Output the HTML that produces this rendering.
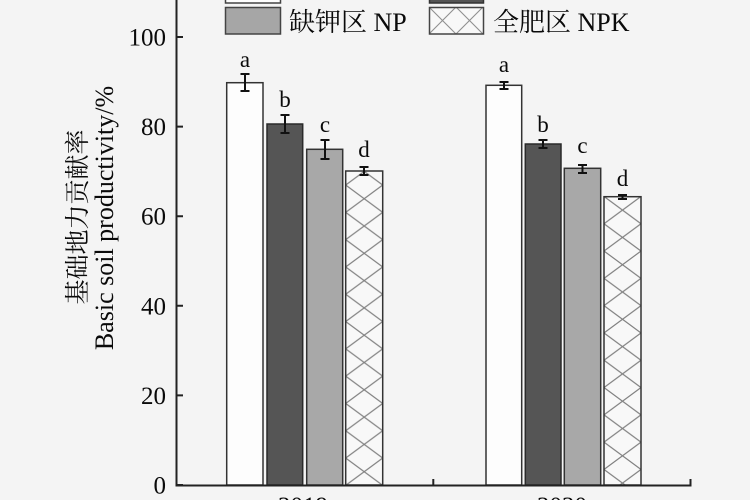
<!DOCTYPE html>
<html>
<head>
<meta charset="utf-8">
<style>
html,body{margin:0;padding:0;background:#f4f4f4;}
svg{display:block;}
text{font-family:"Liberation Serif","Noto Serif CJK SC",serif;fill:#0a0a0a;}
</style>
</head>
<body>
<svg width="750" height="500" viewBox="0 0 750 500" xmlns="http://www.w3.org/2000/svg">
<defs>
<pattern id="h1" patternUnits="userSpaceOnUse" x="345.7" y="-6.05" width="37" height="27.3">
<path d="M0,0 L37,27.3 M37,0 L0,27.3" stroke="#808080" stroke-width="1.2" fill="none"/>
</pattern>
<pattern id="h2" patternUnits="userSpaceOnUse" x="604" y="5.35" width="37" height="27.3">
<path d="M0,0 L37,27.3 M37,0 L0,27.3" stroke="#808080" stroke-width="1.2" fill="none"/>
</pattern>
<pattern id="hl" patternUnits="userSpaceOnUse" x="429" y="7" width="27" height="27">
<path d="M0,0 L27,27 M27,0 L0,27" stroke="#909090" stroke-width="1.1" fill="none"/>
</pattern>
</defs>
<rect x="0" y="0" width="750" height="500" fill="#f4f4f4"/>

<!-- Legend -->
<rect x="225.5" y="-24" width="55" height="27" fill="#fdfdfd" stroke="#444" stroke-width="1.5"/>
<text x="289" y="-5" font-size="26">不施肥区 CK</text>
<rect x="429.5" y="-24" width="54" height="27" fill="#555" stroke="#333" stroke-width="1.5"/>
<text x="493" y="-5" font-size="26">缺磷区 NK</text>
<rect x="225.5" y="7.5" width="55" height="26.5" fill="#a6a6a6" stroke="#444" stroke-width="1.5"/>
<text x="289" y="31" font-size="26">缺钾区 NP</text>
<rect x="429.5" y="7.5" width="54" height="26.5" fill="#f8f8f8"/>
<rect x="429.5" y="7.5" width="54" height="26.5" fill="url(#hl)" stroke="#444" stroke-width="1.5"/>
<text x="493" y="31" font-size="26">全肥区 NPK</text>

<!-- Y axis label -->
<text transform="translate(86,217) rotate(-90)" text-anchor="middle" font-size="25">基础地力贡献率</text>
<text transform="translate(113,218) rotate(-90)" text-anchor="middle" font-size="26">Basic soil productivity/%</text>

<!-- Bars 2019 -->
<rect x="226.7" y="82.7" width="36.3" height="402.3" fill="#fdfdfd" stroke="#333" stroke-width="1.5"/>
<rect x="267" y="124" width="35.7" height="361" fill="#555" stroke="#2a2a2a" stroke-width="1.5"/>
<rect x="306.7" y="149.3" width="36" height="335.7" fill="#a8a8a8" stroke="#333" stroke-width="1.5"/>
<rect x="345.7" y="171" width="37" height="314" fill="#f8f8f8"/>
<rect x="345.7" y="171" width="37" height="314" fill="url(#h1)" stroke="#333" stroke-width="1.5"/>

<!-- Bars 2020 -->
<rect x="486" y="85.3" width="35.7" height="399.7" fill="#fdfdfd" stroke="#333" stroke-width="1.5"/>
<rect x="525.3" y="144" width="35.7" height="341" fill="#555" stroke="#2a2a2a" stroke-width="1.5"/>
<rect x="564.3" y="168.3" width="36.4" height="316.7" fill="#a8a8a8" stroke="#333" stroke-width="1.5"/>
<rect x="604" y="196.7" width="37" height="288.3" fill="#f8f8f8"/>
<rect x="604" y="196.7" width="37" height="288.3" fill="url(#h2)" stroke="#333" stroke-width="1.5"/>

<!-- Error bars -->
<g stroke="#111" stroke-width="2" fill="none">
<path d="M245,74 V91 M240.5,74 H249.5 M240.5,91 H249.5"/>
<path d="M285,115 V133 M280.5,115 H289.5 M280.5,133 H289.5"/>
<path d="M325,140 V159 M320.5,140 H329.5 M320.5,159 H329.5"/>
<path d="M364,167 V175 M359.5,167 H368.5 M359.5,175 H368.5"/>
<path d="M504,82 V89 M499.5,82 H508.5 M499.5,89 H508.5"/>
<path d="M543,140 V148 M538.5,140 H547.5 M538.5,148 H547.5"/>
<path d="M582.5,165 V173 M578,165 H587 M578,173 H587"/>
<path d="M622.5,195 V199 M618,195 H627 M618,199 H627"/>
</g>

<!-- Significance letters -->
<g font-size="23" text-anchor="middle">
<text x="245" y="67">a</text>
<text x="285" y="107">b</text>
<text x="325" y="132">c</text>
<text x="364" y="157">d</text>
<text x="504" y="72">a</text>
<text x="543" y="132">b</text>
<text x="582.5" y="153">c</text>
<text x="622.5" y="186">d</text>
</g>

<!-- Axes -->
<g stroke="#222" stroke-width="2" fill="none">
<path d="M176.5,0 V485.5 H690.5 V479"/>
<path d="M433.3,485 V479"/>
<path d="M176.5,485 H183 M176.5,395.4 H183 M176.5,305.8 H183 M176.5,216.2 H183 M176.5,126.6 H183 M176.5,37 H183"/>
</g>

<!-- Y tick labels -->
<g font-size="25" text-anchor="end">
<text x="166" y="493.5">0</text>
<text x="166" y="403.9">20</text>
<text x="166" y="314.3">40</text>
<text x="166" y="224.7">60</text>
<text x="166" y="135.1">80</text>
<text x="166" y="45.5">100</text>
</g>

<!-- X tick labels -->
<g font-size="25" text-anchor="middle">
<text x="303" y="514">2019</text>
<text x="562" y="514">2020</text>
</g>
</svg>
</body>
</html>
